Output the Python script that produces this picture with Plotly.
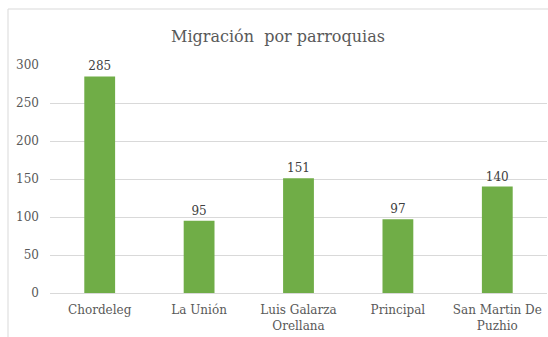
import plotly.graph_objects as go

categories = ["Chordeleg", "La Unión", "Luis Galarza<br>Orellana", "Principal", "San Martin De<br>Puzhio"]
values = [285, 95, 151, 97, 140]
y_ticks = [0, 50, 100, 150, 200, 250, 300]

text_color = "#595959"
grid_color = "#d9d9d9"
bar_color = "#70ad47"
font_family = "DejaVu Serif"

fig = go.Figure(
    go.Bar(
        x=categories,
        y=values,
        marker=dict(color=bar_color, line=dict(width=0)),
        text=values,
        textposition="outside",
        textfont=dict(family=font_family, size=12, color="#404040"),
        cliponaxis=False,
        width=0.31,
    )
)

fig.update_layout(
    width=548,
    height=337,
    margin=dict(l=50, r=1, t=65, b=44),
    paper_bgcolor="white",
    plot_bgcolor="white",
    showlegend=False,
    font=dict(family=font_family, size=12, color=text_color),
    title=dict(
        text="Migración&nbsp; por parroquias",
        x=(278 - 50) / 497,
        xref="paper",
        xanchor="center",
        y=1 - 36 / 337,
        yanchor="middle",
        font=dict(family=font_family, size=16, color=text_color),
    ),
    xaxis=dict(
        showgrid=False,
        showline=False,
        ticks="",
        ticklabelstandoff=8,
        tickfont=dict(family=font_family, size=12, color=text_color),
    ),
    yaxis=dict(
        range=[0, 300],
        tickvals=y_ticks,
        showgrid=True,
        gridcolor=grid_color,
        gridwidth=1,
        zeroline=True,
        zerolinecolor=grid_color,
        zerolinewidth=1,
        showline=False,
        ticks="",
        ticklabelstandoff=10,
        tickfont=dict(family=font_family, size=12, color=text_color),
    ),
    shapes=[
        dict(
            type="rect",
            xref="paper",
            yref="paper",
            x0=(8 - 50) / 497,
            x1=(560 - 50) / 497,
            y0=(293 - 360) / 228,
            y1=(293 - 9) / 228,
            line=dict(color=grid_color, width=1),
            fillcolor="rgba(0,0,0,0)",
            layer="below",
        )
    ],
)

fig.write_html("out.html")
